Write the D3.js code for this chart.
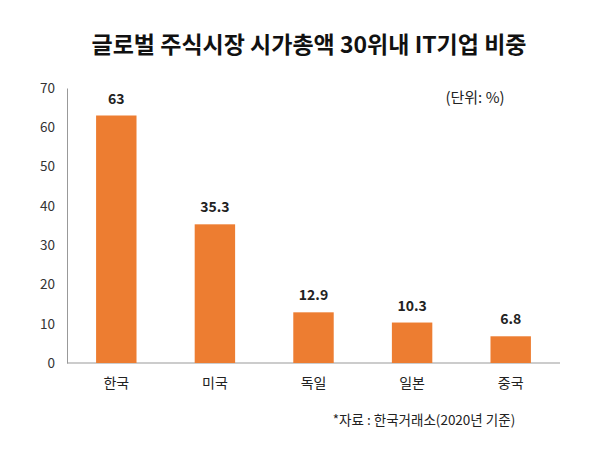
<!DOCTYPE html>
<html><head><meta charset="utf-8">
<script src="https://cdn.jsdelivr.net/npm/d3@7"></script>
<style>body{margin:0;background:#fff;} text{font-family:"Noto Sans CJK KR","Noto Sans",sans-serif;}</style>
</head><body>
<svg id="c" width="614" height="453"></svg>
<script>
const categories = ["한국","미국","독일","일본","중국"];
const values = [63, 35.3, 12.9, 10.3, 6.8];
const valueLabels = ["63","35.3","12.9","10.3","6.8"];
const yTicks = [0,10,20,30,40,50,60,70];
const title = "글로벌 주식시장 시가총액 30위내 IT기업 비중";
const unitNote = "(단위: %)";
const sourceNote = "*자료 : 한국거래소(2020년 기준)";

const svg = d3.select("#c");
const m = {left:67, right:54, top:88, bottom:90};
const W = 614, H = 453;
const x = d3.scaleBand().domain(categories).range([m.left, W-m.right]).paddingInner(0.59).paddingOuter(0.295);
const y = d3.scaleLinear().domain([0,70]).range([H-m.bottom, m.top]);

svg.append("text").attr("x",309).attr("y",53).attr("text-anchor","middle")
  .attr("font-size",23).attr("font-weight","bold").attr("fill","#111").text(title);

// y axis
const ya = svg.append("g").attr("transform",`translate(${m.left},0)`)
  .call(d3.axisLeft(y).tickValues(yTicks).tickSize(0).tickPadding(12));
ya.select(".domain").attr("stroke","#999");
ya.selectAll("text").attr("font-size",13.5).attr("fill","#333").style("font-family","'Noto Sans CJK KR','Noto Sans',sans-serif");

// x axis
const xa = svg.append("g").attr("transform",`translate(0,${y(0)})`)
  .call(d3.axisBottom(x).tickSize(0).tickPadding(15));
xa.select(".domain").attr("stroke","#999").attr("d",`M${m.left},0H${W-m.right}`);
xa.selectAll("text").attr("font-size",14).attr("fill","#222").style("font-family","'Noto Sans CJK KR','Noto Sans',sans-serif");

svg.append("g").selectAll("rect").data(values).join("rect")
  .attr("x",(d,i)=>x(categories[i])).attr("width",x.bandwidth())
  .attr("y",d=>y(d)).attr("height",d=>y(0)-y(d)).attr("fill","#ED7D31");

svg.append("g").selectAll("text").data(values).join("text")
  .attr("x",(d,i)=>x(categories[i])+x.bandwidth()/2).attr("y",d=>y(d)-12)
  .attr("text-anchor","middle").attr("font-size",14).attr("font-weight","bold").attr("fill","#222")
  .text((d,i)=>valueLabels[i]);

svg.append("text").attr("x",475).attr("y",103).attr("text-anchor","middle")
  .attr("font-size",15).attr("fill","#222").text(unitNote);
svg.append("text").attr("x",424).attr("y",425).attr("text-anchor","middle")
  .attr("font-size",13.5).attr("fill","#222").text(sourceNote);
</script>
</body></html>
